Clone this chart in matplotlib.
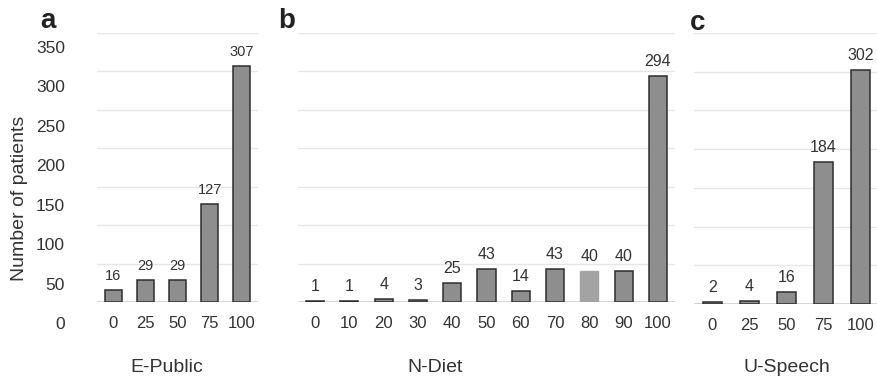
import matplotlib
matplotlib.use("Agg")
import matplotlib.pyplot as plt

plt.rcParams['font.family'] = ['Liberation Sans', 'DejaVu Sans']

a_cats = ["0", "25", "50", "75", "100"]
a_vals = [16, 29, 29, 127, 307]
b_cats = ["0", "10", "20", "30", "40", "50", "60", "70", "80", "90", "100"]
b_vals = [1, 1, 4, 3, 25, 43, 14, 43, 40, 40, 294]
c_cats = ["0", "25", "50", "75", "100"]
c_vals = [2, 4, 16, 184, 302]
y_ticks = [0, 50, 100, 150, 200, 250, 300, 350]

W, H = 877, 379
fig = plt.figure(figsize=(W / 100, H / 100), dpi=100)

def px_axes(x0, x1, ytop, ybot):
    return fig.add_axes([x0 / W, (H - ybot) / H, (x1 - x0) / W, (ybot - ytop) / H])

BAR = "#8e8e8e"
EDGE = "#2e2e2e"
TXT = "#333333"

def draw(ax, cats, vals, vfs, light_idx=None):
    xs = range(len(cats))
    for i, (x, v) in enumerate(zip(xs, vals)):
        if light_idx is not None and i == light_idx:
            ax.bar(x, v, width=0.53, color="#a3a3a3", edgecolor="#a3a3a3", linewidth=1.0, zorder=3)
        else:
            ax.bar(x, v, width=0.53, color=BAR, edgecolor=EDGE, linewidth=1.1, zorder=3)
        ax.text(x, v + 9, str(v), ha="center", va="bottom", fontsize=vfs, color=TXT)
    ax.set_xlim(-0.5, len(cats) - 0.5)
    ax.set_ylim(0, 350)
    ax.set_yticks(y_ticks)
    ax.grid(axis="y", color="#e6e6e6", linewidth=1.0, zorder=0)
    ax.axhline(0, color="#cfcfcf", linewidth=1.2, zorder=2)
    for s in ax.spines.values():
        s.set_visible(False)
    ax.set_xticks(list(xs))
    ax.set_xticklabels(cats, fontsize=12, color=TXT)
    ax.tick_params(axis="x", length=0, pad=10)
    ax.tick_params(axis="y", length=0, labelleft=False)

ax_a = px_axes(97, 258, 33, 302)
draw(ax_a, a_cats, a_vals, 10.5)
ax_b = px_axes(298, 675, 33, 302)
draw(ax_b, b_cats, b_vals, 11.5, light_idx=8)
ax_c = px_axes(694, 879, 33, 304)
draw(ax_c, c_cats, c_vals, 11.5)

# y tick labels (offset from gridlines as in the original)
ax_lab = px_axes(97, 258, 47, 323)
ax_lab.set_ylim(0, 350)
ax_lab.set_yticks(y_ticks)
ax_lab.set_yticklabels([str(t) for t in y_ticks], fontsize=12.5, color=TXT)
ax_lab.tick_params(axis="y", length=0, pad=23)
ax_lab.set_xticks([])
ax_lab.patch.set_visible(False)
for s in ax_lab.spines.values():
    s.set_visible(False)

fig.text(20 / W, 1 - 198 / H, "Number of patients", rotation=90, ha="center", va="center",
         fontsize=14, color=TXT)
fig.text(167 / W, 1 - 367 / H, "E-Public", ha="center", va="center", fontsize=14, color=TXT)
fig.text(435 / W, 1 - 367 / H, "N-Diet", ha="center", va="center", fontsize=14, color=TXT)
fig.text(787 / W, 1 - 367 / H, "U-Speech", ha="center", va="center", fontsize=14, color=TXT)

fig.text(48 / W, 1 - 21 / H, "a", ha="center", va="center", fontsize=20, fontweight="bold", color="#222222")
fig.text(287 / W, 1 - 21 / H, "b", ha="center", va="center", fontsize=20, fontweight="bold", color="#222222")
fig.text(698 / W, 1 - 23 / H, "c", ha="center", va="center", fontsize=20, fontweight="bold", color="#222222")

fig.savefig("out.png", dpi=100)
